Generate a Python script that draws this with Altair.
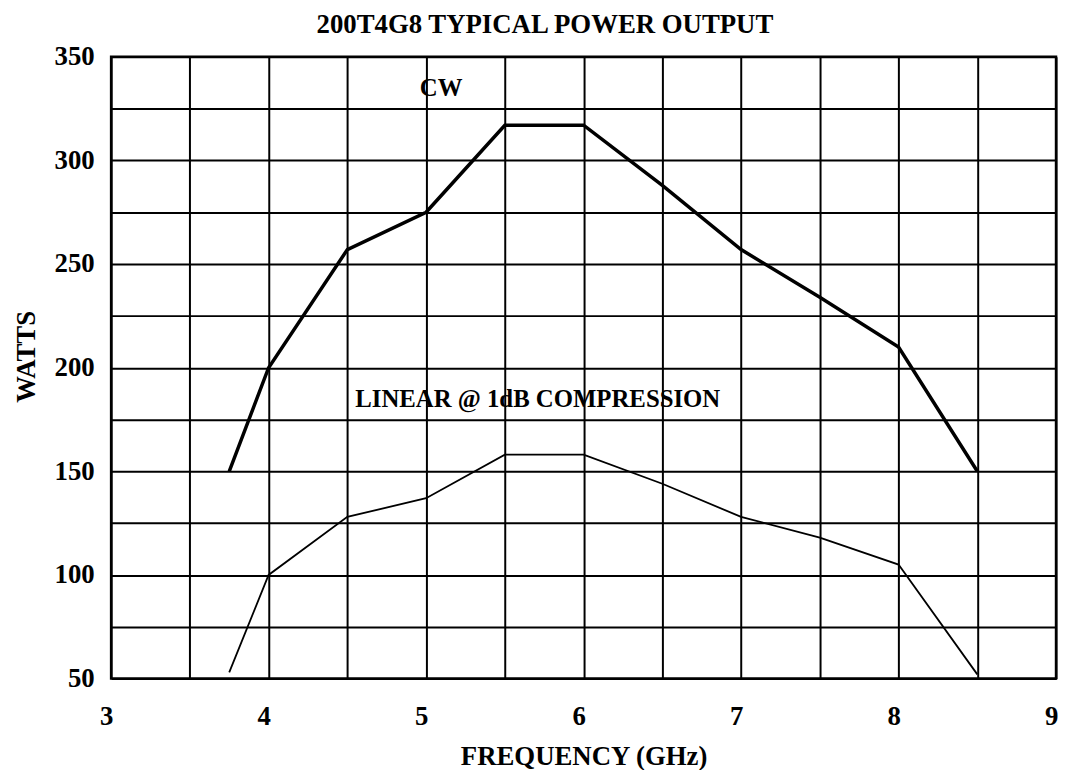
import altair as alt
import pandas as pd

# ---- data ----
freq_ghz = [3.75, 4.0, 4.5, 5.0, 5.5, 6.0, 6.5, 7.0, 7.5, 8.0, 8.5]
cw_watts = [150, 200, 257, 275, 317, 317, 288, 257, 234, 210, 150]
linear_watts = [53, 100, 128, 137, 158, 158, 144, 128, 118, 105, 52]

x_grid = [3, 3.5, 4, 4.5, 5, 5.5, 6, 6.5, 7, 7.5, 8, 8.5, 9]
y_grid = [50, 75, 100, 125, 150, 175, 200, 225, 250, 275, 300, 325, 350]

note_text = ["CW", "LINEAR @ 1dB COMPRESSION"]
note_x = [4.96, 4.55]
note_y = [335, 185]

FONT = "Liberation Serif"

cw_df = pd.DataFrame({"freq": freq_ghz, "watts": cw_watts})
lin_df = pd.DataFrame({"freq": freq_ghz, "watts": linear_watts})
note_df = pd.DataFrame({"text": note_text, "freq": note_x, "watts": note_y})

x_enc = alt.X(
    "freq:Q",
    title="FREQUENCY (GHz)",
    scale=alt.Scale(domain=[3, 9], nice=False, zero=False),
    axis=alt.Axis(
        values=x_grid,
        labelExpr="datum.value % 1 === 0 ? format(datum.value, 'd') : ''",
        grid=True,
        ticks=False,
        domain=False,
        labelFlush=False,
        labelPadding=25,
        labelOffset=-5,
        titlePadding=15,
    ),
)
y_enc = alt.Y(
    "watts:Q",
    title="WATTS",
    scale=alt.Scale(domain=[50, 350], nice=False, zero=False),
    axis=alt.Axis(
        values=y_grid,
        labelExpr="datum.value % 50 === 0 ? format(datum.value, 'd') : ''",
        grid=True,
        ticks=False,
        domain=False,
        labelFlush=False,
        labelPadding=17,
        titlePadding=14,
        titleY=302,
    ),
)

cw_line = alt.Chart(cw_df).mark_line(color="black", strokeWidth=3.5).encode(x=x_enc, y=y_enc)
lin_line = alt.Chart(lin_df).mark_line(color="black", strokeWidth=1.8).encode(x=x_enc, y=y_enc)
notes = alt.Chart(note_df).mark_text(
    align="left", baseline="middle", font=FONT, fontWeight="bold", fontSize=25, color="black"
).encode(x=x_enc, y=y_enc, text="text:N")

chart = (
    alt.layer(lin_line, cw_line, notes)
    .properties(
        width=953,
        height=627,
        background="white",
        autosize=alt.AutoSizeParams(type="none"),
        padding={"left": 104, "top": 46, "right": 4, "bottom": 89},
        title=alt.TitleParams(
            "200T4G8 TYPICAL POWER OUTPUT",
            font=FONT,
            fontSize=27,
            fontWeight="bold",
            color="black",
            anchor="middle",
            frame="group",
            dx=-39,
            offset=4,
        ),
    )
    .configure_view(stroke="black", strokeWidth=2.5)
    .configure_axis(
        gridColor="black",
        gridWidth=2,
        gridOpacity=1,
        labelFont=FONT,
        labelFontSize=27,
        labelFontWeight="bold",
        labelColor="black",
        titleFont=FONT,
        titleFontSize=27,
        titleFontWeight="bold",
        titleColor="black",
    )
)

chart.save("out.html", embed_options={"renderer": "svg", "actions": False})
